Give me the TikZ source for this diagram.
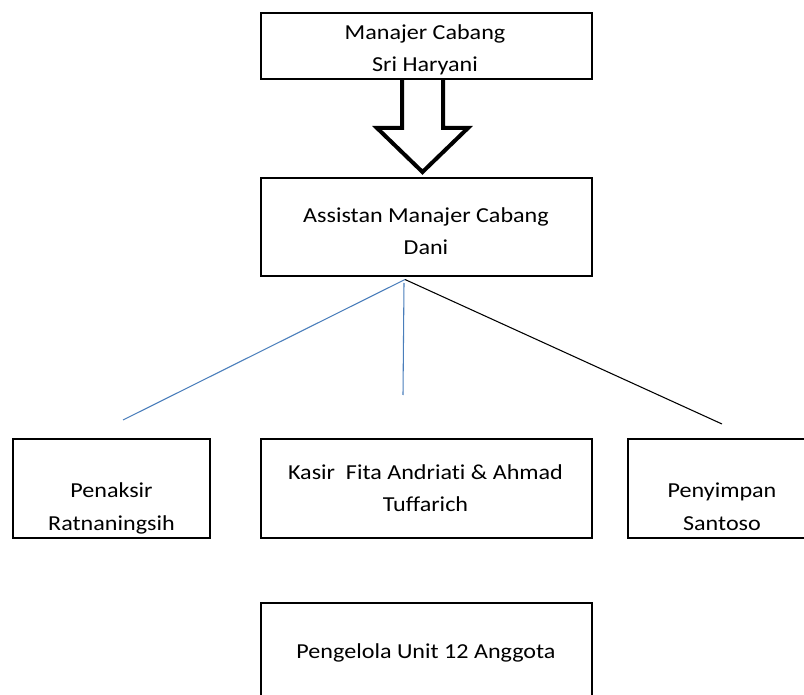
\documentclass[tikz,border=0pt]{standalone}
\usepackage{fontspec}
\setmainfont{Carlito}[FakeStretch=1.13, Ligatures=CommonOff]
\usetikzlibrary{positioning}
\definecolor{garisbiru}{HTML}{4A7EBB}

\begin{document}
\begin{tikzpicture}[x=0.75pt,y=-0.75pt,
    kotak/.style={draw, line width=1.6pt, minimum width=248.25pt, inner sep=0pt},
    teks/.style={font=\fontsize{16}{24.3}\selectfont, align=center, anchor=base, inner sep=0pt},
    garis/.style={line width=0.8pt}]
      \def\px{0.75pt}
      \useasboundingbox (0,0) rectangle (804,695);
      \clip (0,0) rectangle (804,695);

      % Panah blok
      \draw[line width=3pt, line join=miter]
        (402,79) -- (402,128) -- (377,128) -- (422.5,172) -- (468,128) -- (443,128) -- (443,79);

      % Kotak
      \node[kotak, minimum height=66*\px] (manajer) at (426.5,46) {};
      \node[kotak, minimum height=98*\px] (asisten) at (426.5,227) {};
      \node[kotak, minimum width=197*\px, minimum height=99*\px] (penaksir) at (111.5,488.5) {};
      \node[kotak, minimum height=99*\px] (kasir) at (426.5,488.5) {};
      \node[kotak, minimum width=188*\px, minimum height=99*\px] (penyimpan) at (722,488.5) {};
      \node[kotak, minimum height=97*\px] (pengelola) at (426.5,651.5) {};

      % Teks (anchor base = baris terakhir)
      \node[teks] (tmanajer) at (425,71.5) {Manajer Cabang\\Sri Haryani};
      \node[teks] (tasisten) at (426,255) {Assistan Manajer Cabang\\Dani};
      \node[teks] (tpenaksir) at (111.5,530) {Penaksir\\Ratnaningsih};
      \node[teks] (tkasir) at (425.5,512) {Kasir\ \ Fita Andriati \& Ahmad\\Tuffarich};
      \node[teks] (tpenyimpan) at (722,530) {Penyimpan\\Santoso};
      \node[teks] (tpengelola) at (426,658) {Pengelola Unit 12 Anggota};

      % Garis
      \coordinate (puncak) at (405,279.5);
      \coordinate (puncakb) at (404,283);
      \coordinate (ujungkiri) at (123,420);
      \coordinate (ujungtengah) at (403,395);
      \coordinate (ujungkanan) at (722,424);
      \draw[garis, garisbiru] (puncak) -- (ujungkiri);
      \draw[garis, garisbiru] (puncakb) -- (ujungtengah);
      \draw[garis, black] (puncak) -- (ujungkanan);
    \end{tikzpicture}
\end{document}
